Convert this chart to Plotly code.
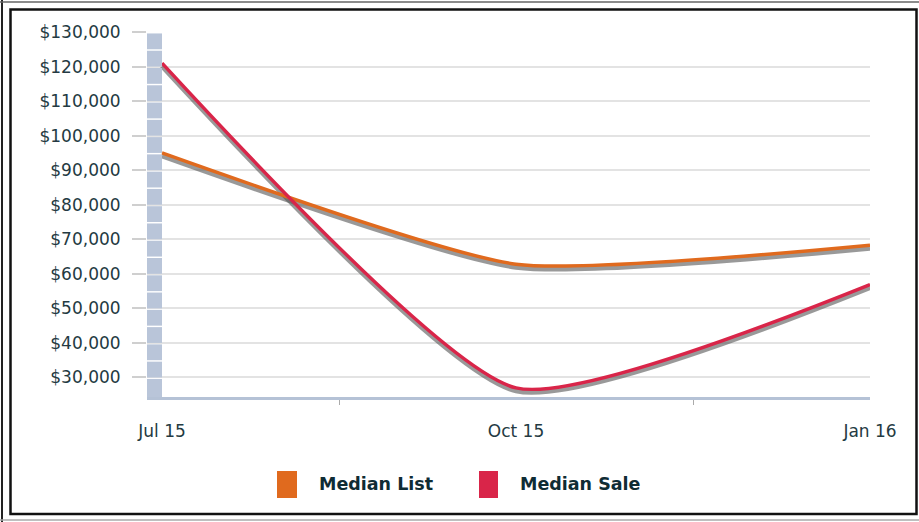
import plotly.graph_objects as go

# ---- data ----
periods = ["Jul 15", "Oct 15", "Jan 16"]
median_list = [95000, 62800, 68300]
median_sale = [121000, 27000, 56900]
series_names = ["Median List", "Median Sale"]
series_colors = ["#e06a1e", "#d92549"]
y_ticks = [30000, 40000, 50000, 60000, 70000, 80000, 90000, 100000, 110000, 120000, 130000]
y_tick_labels = ["$30,000", "$40,000", "$50,000", "$60,000", "$70,000", "$80,000",
                 "$90,000", "$100,000", "$110,000", "$120,000", "$130,000"]

W, H = 919, 522
L, R, T, B = 147, 870, 32, 397          # plot area in pixels
y_lo, y_hi = 24350, 130000
x_lo, x_hi = -0.0424, 2

def px(x):
    return (x - L) / (R - L)

def py(y):
    return (B - y) / (B - T)

xs = list(range(len(periods)))
shadow_shift = 3 * (y_hi - y_lo) / (B - T)
SMOOTH = 0.55

fig = go.Figure()

# shadows (overlay axis shifted a few pixels down)
for vals in (median_list, median_sale):
    fig.add_trace(go.Scatter(
        x=xs, y=vals, mode="lines", yaxis="y2",
        line=dict(color="rgba(85,85,85,0.6)", width=5, shape="spline", smoothing=SMOOTH),
        showlegend=False, hoverinfo="skip"))

for vals, name, col in zip((median_list, median_sale), series_names, series_colors):
    fig.add_trace(go.Scatter(
        x=xs, y=vals, mode="lines", name=name, yaxis="y3",
        line=dict(color=col, width=3.5, shape="spline", smoothing=SMOOTH),
        showlegend=False))

shapes = []
# striped axis wall on the left
step = 5000
edges = [y_lo] + list(range(30000, 130001, step))
for a, b in zip(edges[:-1], edges[1:]):
    shapes.append(dict(type="rect", xref="x", yref="y", x0=x_lo, x1=0,
                       y0=a, y1=b - 420, fillcolor="#b9c5d9", line=dict(width=0),
                       layer="above"))

# legend drawn as squares + labels
legend_items = [(277, 297, 317), (479, 498, 518)]
annotations = []
for (x0, x1, tx), name, col in zip(legend_items, series_names, series_colors):
    shapes.append(dict(type="rect", xref="paper", yref="paper",
                       x0=px(x0), x1=px(x1), y0=py(498), y1=py(471),
                       fillcolor=col, line=dict(width=0)))
    annotations.append(dict(xref="paper", yref="paper", x=px(tx), y=py(484),
                            xanchor="left", yanchor="middle", showarrow=False,
                            text="<b>" + name + "</b>",
                            font=dict(family="DejaVu Sans", size=17.5, color="#0f2c34")))

# frame
shapes.append(dict(type="rect", xref="paper", yref="paper",
                   x0=px(10.5), x1=px(916.5), y0=py(514), y1=py(9.5),
                   line=dict(color="#111111", width=2.5)))
shapes.append(dict(type="line", xref="paper", yref="paper",
                   x0=px(2), x1=px(2), y0=py(522), y1=py(0),
                   line=dict(color="#222222", width=2)))
shapes.append(dict(type="line", xref="paper", yref="paper",
                   x0=px(0), x1=px(919), y0=py(2), y1=py(2),
                   line=dict(color="#666666", width=1.5)))
shapes.append(dict(type="line", xref="paper", yref="paper",
                   x0=px(0), x1=px(919), y0=py(520), y1=py(520),
                   line=dict(color="#aaaaaa", width=1.5)))

tick_font = dict(family="DejaVu Sans", size=17, color="#243a42")

fig.update_layout(
    width=W, height=H,
    margin=dict(l=L, r=W - R, t=T, b=H - B),
    paper_bgcolor="white", plot_bgcolor="white",
    showlegend=False,
    shapes=shapes, annotations=annotations,
    xaxis=dict(range=[x_lo, x_hi], tickmode="array", tickvals=xs, ticktext=periods,
               ticks="", showgrid=False, zeroline=False,
               showline=True, linecolor="#b5c2d6", linewidth=2.5,
               ticklabelstandoff=17, tickfont=tick_font,
               minor=dict(tick0=0.5, dtick=1, ticks="outside", ticklen=5,
                          tickcolor="#aaaaaa", tickwidth=1, showgrid=False)),
    yaxis=dict(range=[y_lo, y_hi], tickmode="array", tickvals=y_ticks,
               ticktext=y_tick_labels, showgrid=True,
               gridcolor="#e3e3e3", gridwidth=1.5, zeroline=False,
               ticks="outside", ticklen=14, tickcolor="#cfcfcf", tickwidth=1.5,
               ticklabelstandoff=8, tickfont=tick_font, showline=False),
    yaxis2=dict(range=[y_lo + shadow_shift, y_hi + shadow_shift], overlaying="y",
                visible=False),
    yaxis3=dict(range=[y_lo, y_hi], overlaying="y", visible=False),
)

fig.write_html("out.html", config={"displayModeBar": False},
               post_script="document.body.style.margin='0px';")
